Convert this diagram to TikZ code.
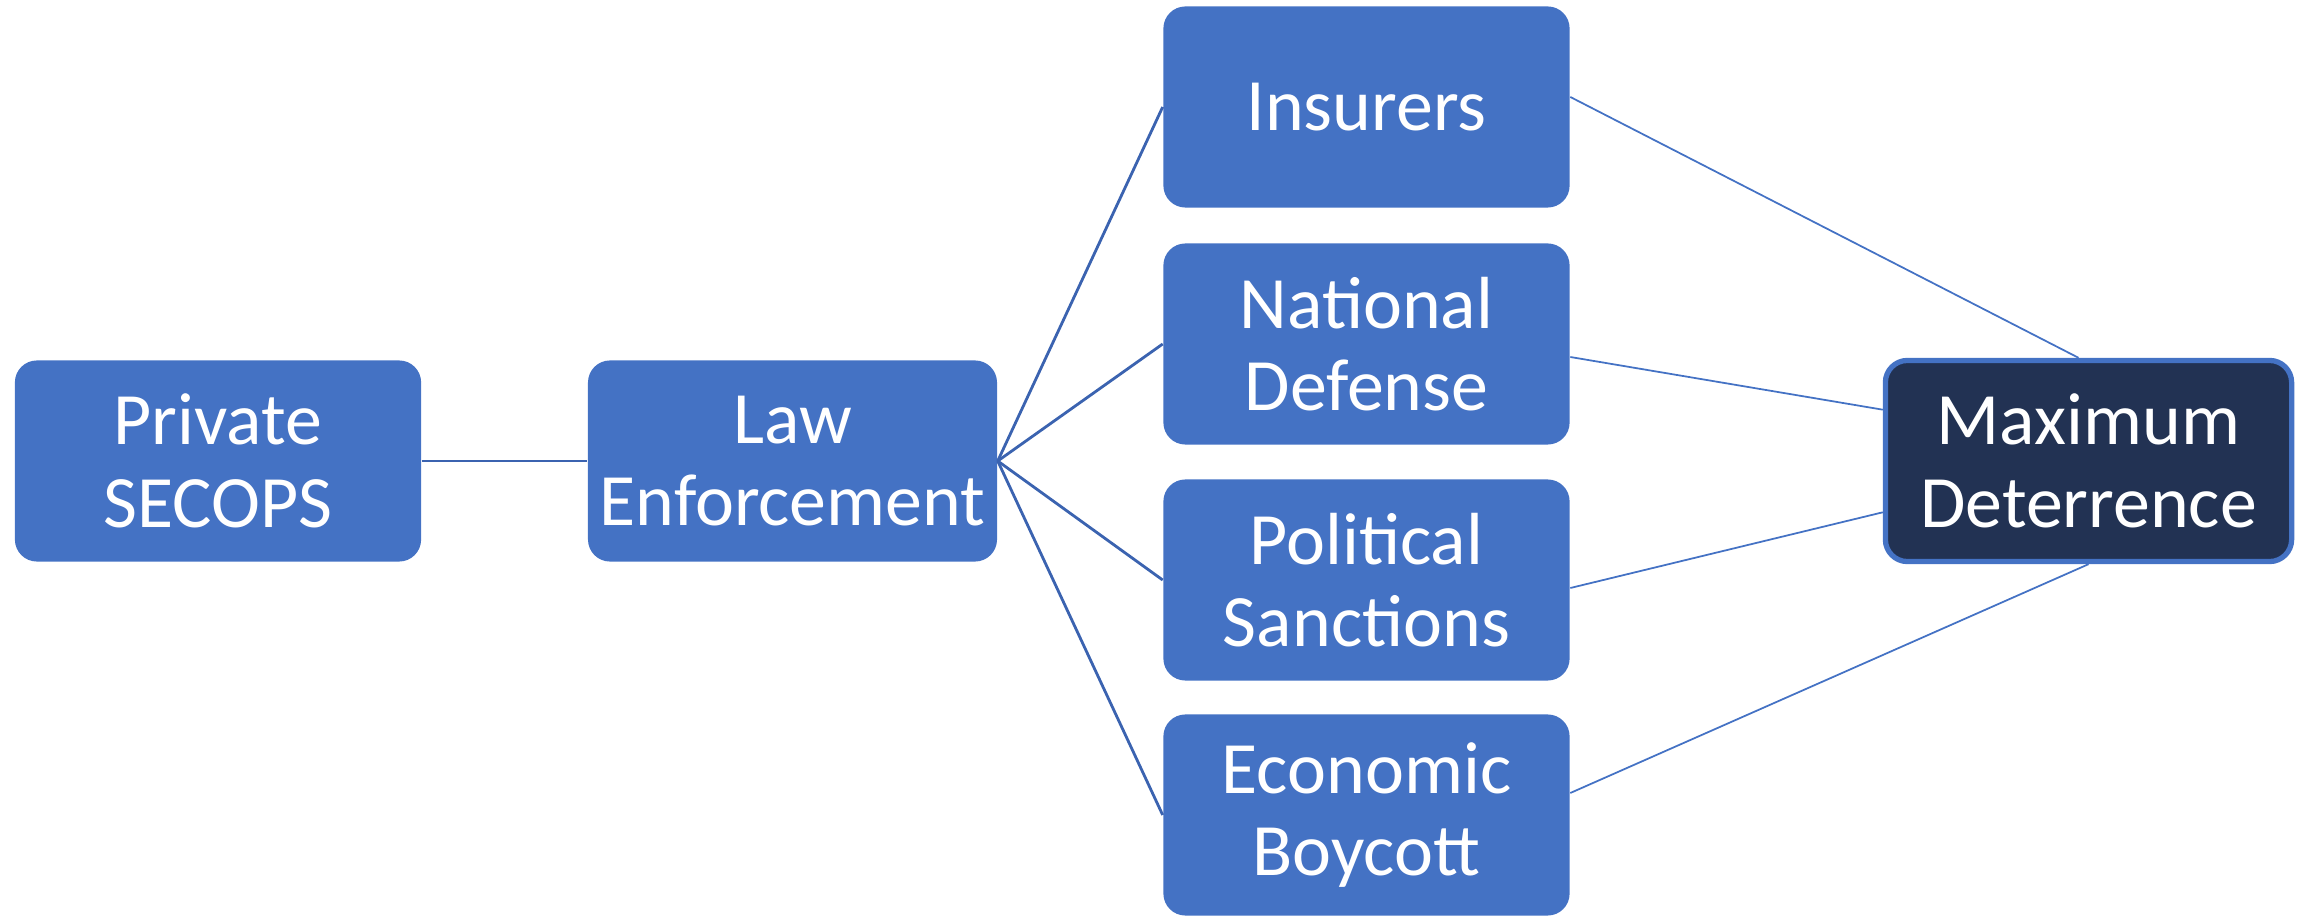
\documentclass[tikz,border=0pt]{standalone}
\usepackage{fontspec}
\setmainfont{Carlito}
\definecolor{boxblue}{HTML}{4472C4}
\definecolor{linkblue}{HTML}{3B63B0}
\definecolor{navy}{HTML}{223253}
\begin{document}
\begin{tikzpicture}[x=0.01cm, y=-0.01cm,
    every node/.style={rectangle, rounded corners=0.22cm, fill=boxblue, text=white,
        minimum width=4.06cm, minimum height=2.01cm, align=center,
        font=\fontsize{21}{23.5}\selectfont},
    link/.style={draw=linkblue, line width=0.8pt},
    thinlink/.style={draw=boxblue, line width=0.5pt}]
    \useasboundingbox (0,0) rectangle (2303,916);

    % First column
    \node[] (priv) at (218,461) {Private\\SECOPS};
    \node[] (law) at (792.5,461) {Law\\Enforcement};

    % Middle column (4 boxes)
    \node[] (ins) at (1366.5,107) {Insurers};
    \node[] (nat) at (1366.5,344) {National\\Defense};
    \node[] (pol) at (1366.5,580) {Political\\Sanctions};
    \node[] (eco) at (1366.5,815) {Economic\\Boycott};

    % Last column
    \node[fill=navy, draw=boxblue, line width=1.5pt] (max) at (2088.5,461) {Maximum\\Deterrence};

    % Connect first column to law enforcement
    \draw[link] (priv) -- (law);

    % Connect law enforcement to middle column
    \foreach \m in {ins,nat,pol,eco} {
        \draw[link] (law.east) -- (\m.west);
    }

    % Connect middle column to maximum deterrence
    \draw[thinlink] ([yshift=0.1cm]ins.east) -- ([xshift=-0.1cm]max.north);
    \draw[thinlink] ([yshift=-0.13cm]nat.east) -- (max.166);
    \draw[thinlink] ([yshift=-0.08cm]pol.east) -- (max.194);
    \draw[thinlink] ([yshift=0.22cm]eco.east) -- (max.south);
\end{tikzpicture}
\end{document}
